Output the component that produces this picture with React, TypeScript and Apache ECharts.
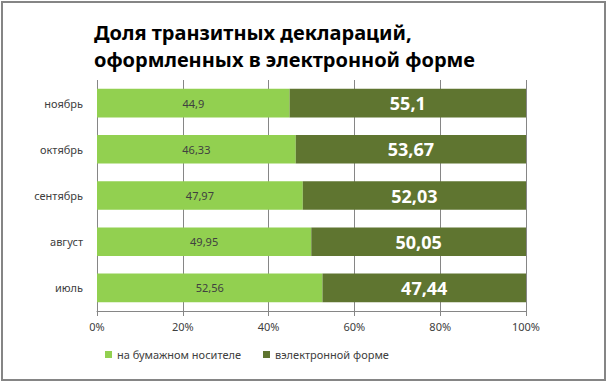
import React, { useEffect, useRef } from "react";
import * as echarts from "echarts";

const categories = ["июль", "август", "сентябрь", "октябрь", "ноябрь"];
const paperValues = [52.56, 49.95, 47.97, 46.33, 44.9];
const electronicValues = [47.44, 50.05, 52.03, 53.67, 55.1];
const seriesNames = ["на бумажном носителе", "вэлектронной форме"];
const titleText = "Доля транзитных деклараций,\nоформленных в электронной форме";

const fmt = (v: number) => String(v).replace(".", ",");

export default function App() {
  const ref = useRef<HTMLDivElement>(null);
  useEffect(() => {
    if (!ref.current) return;
    const chart = echarts.init(ref.current, undefined, { renderer: "svg" });
    const font = "'Noto Sans', 'DejaVu Sans', sans-serif";
    chart.setOption({
      animation: false,
      backgroundColor: "#ffffff",
      textStyle: { fontFamily: font },
      title: {
        text: titleText,
        left: 89,
        top: 14,
        textStyle: {
          fontFamily: font,
          fontSize: 20,
          fontWeight: "bold",
          color: "#000000",
          lineHeight: 27,
        },
      },
      graphic: [
        {
          type: "rect",
          shape: { x: 2, y: 2, width: 603, height: 378 },
          style: { fill: "none", stroke: "#858585", lineWidth: 2 },
          silent: true,
        },
      ],
      legend: {
        left: 100,
        top: 344,
        icon: "rect",
        itemWidth: 7,
        itemHeight: 7,
        itemGap: 22,
        textStyle: { fontSize: 11, color: "#404040", fontFamily: font },
        data: seriesNames,
      },
      grid: { left: 97, right: 82, top: 80, height: 231, containLabel: false },
      xAxis: {
        type: "value",
        min: 0,
        max: 100,
        interval: 20,
        axisLabel: {
          formatter: "{value}%",
          fontSize: 11,
          color: "#404040",
          margin: 10,
        },
        axisLine: { show: true, lineStyle: { color: "#868686", width: 1 } },
        axisTick: { show: true, length: 5, lineStyle: { color: "#868686" } },
        splitLine: { show: true, lineStyle: { color: "#868686", width: 1 } },
      },
      yAxis: {
        type: "category",
        data: categories,
        axisLine: { show: false },
        axisTick: { show: false },
        axisLabel: { fontSize: 11, color: "#404040", margin: 14 },
      },
      series: [
        {
          name: seriesNames[0],
          type: "bar",
          stack: "total",
          data: paperValues,
          barCategoryGap: "38%",
          itemStyle: { color: "#92D050" },
          label: {
            show: true,
            position: "inside",
            fontSize: 11,
            color: "#404040",
            formatter: (p: any) => fmt(p.value),
          },
        },
        {
          name: seriesNames[1],
          type: "bar",
          stack: "total",
          data: electronicValues,
          barCategoryGap: "38%",
          itemStyle: { color: "#5F7530" },
          label: {
            show: true,
            position: "inside",
            fontSize: 18,
            fontWeight: "bold",
            color: "#ffffff",
            formatter: (p: any) => fmt(p.value),
          },
        },
      ],
    });
    return () => chart.dispose();
  }, []);
  return (
    <div
      ref={ref}
      style={{ position: "fixed", left: 0, top: 0, width: 608, height: 383 }}
    />
  );
}
